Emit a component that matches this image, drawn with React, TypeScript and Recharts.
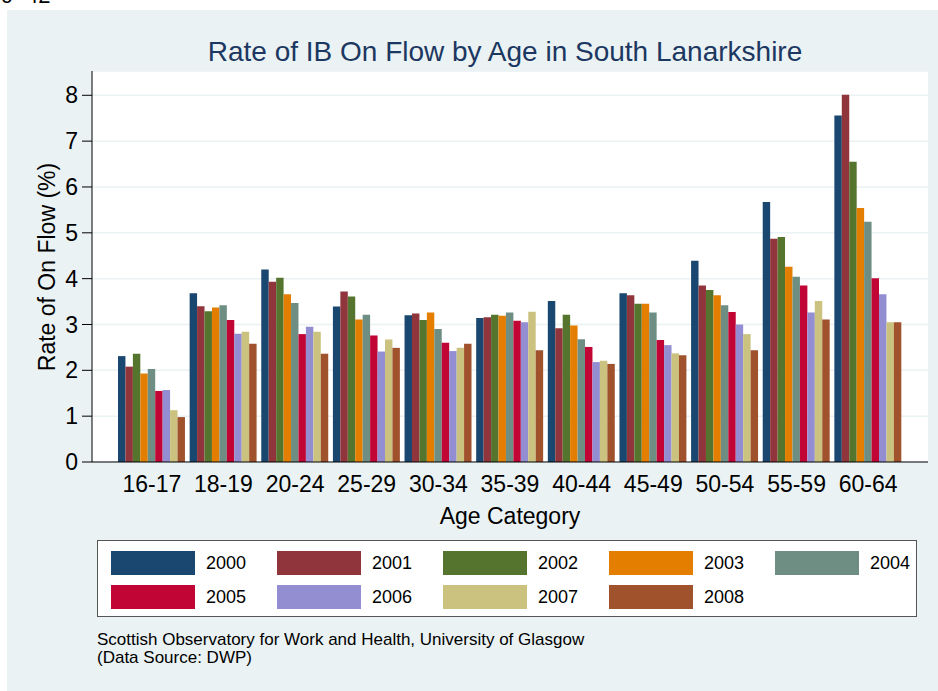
import React from "react"
import { Bar, BarChart, CartesianGrid, XAxis, YAxis } from "recharts"

const ages = ["16-17", "18-19", "20-24", "25-29", "30-34", "35-39", "40-44", "45-49", "50-54", "55-59", "60-64"]
const years = ["2000", "2001", "2002", "2003", "2004", "2005", "2006", "2007", "2008"]

const rate2000 = [2.31, 3.68, 4.2, 3.39, 3.2, 3.14, 3.51, 3.68, 4.39, 5.67, 7.56]
const rate2001 = [2.08, 3.4, 3.93, 3.72, 3.24, 3.16, 2.92, 3.64, 3.85, 4.87, 8.01]
const rate2002 = [2.36, 3.29, 4.02, 3.61, 3.1, 3.21, 3.21, 3.45, 3.75, 4.91, 6.55]
const rate2003 = [1.93, 3.37, 3.66, 3.11, 3.26, 3.19, 2.98, 3.45, 3.64, 4.26, 5.54]
const rate2004 = [2.03, 3.42, 3.47, 3.21, 2.9, 3.26, 2.68, 3.26, 3.42, 4.04, 5.24]
const rate2005 = [1.55, 3.1, 2.79, 2.76, 2.6, 3.08, 2.51, 2.66, 3.27, 3.85, 4.01]
const rate2006 = [1.57, 2.8, 2.95, 2.41, 2.42, 3.05, 2.18, 2.55, 3.0, 3.26, 3.66]
const rate2007 = [1.13, 2.84, 2.84, 2.67, 2.49, 3.28, 2.21, 2.37, 2.79, 3.51, 3.05]
const rate2008 = [0.98, 2.58, 2.36, 2.49, 2.58, 2.44, 2.14, 2.33, 2.44, 3.11, 3.05]

const yTicks = [0, 1, 2, 3, 4, 5, 6, 7, 8]

// stata s2color palette
const colors = ["#1a476f", "#90353b", "#55752f", "#e37e00", "#6e8e84", "#c10534", "#938dd2", "#cac27e", "#a0522d"]

const series = [rate2000, rate2001, rate2002, rate2003, rate2004, rate2005, rate2006, rate2007, rate2008]

const data = ages.map((age, i) => {
  const row: Record<string, string | number> = { age }
  years.forEach((y, j) => {
    row[y] = series[j][i]
  })
  return row
})

const FONT = "'Liberation Sans', Arial, Helvetica, sans-serif"
const BG = "#eaf2f3"

function LegendBox() {
  return (
    <div
      style={{
        position: "absolute",
        left: 97,
        top: 540,
        width: 820,
        height: 77,
        background: "#fff",
        border: "1px solid #555",
        boxSizing: "border-box",
        fontFamily: FONT,
      }}
    >
      {years.map((y, i) => {
        const col = i % 5
        const row = Math.floor(i / 5)
        return (
          <div key={y}>
            <div
              style={{
                position: "absolute",
                left: 13 + col * 166,
                top: 10 + row * 34,
                width: 84,
                height: 24,
                background: colors[i],
              }}
            />
            <div
              style={{
                position: "absolute",
                left: 108 + col * 166,
                top: 10 + row * 34,
                height: 24,
                lineHeight: "24px",
                fontSize: 18,
                color: "#000",
              }}
            >
              {y}
            </div>
          </div>
        )
      })}
    </div>
  )
}

export default function App() {
  return (
    <div style={{ position: "absolute", left: 0, top: 0, width: 938, height: 691, overflow: "hidden", fontFamily: FONT }}>
      <div style={{ position: "absolute", left: 7, top: 10, width: 931, height: 681, background: BG }} />
      <div style={{ position: "absolute", left: 1, top: -15, fontSize: 22, lineHeight: "22px" }}>9</div>
      <div style={{ position: "absolute", left: 26, top: -15, fontSize: 22, lineHeight: "22px" }}>42</div>
      <div
        style={{
          position: "absolute",
          left: 0,
          width: 1010,
          top: 36,
          textAlign: "center",
          fontSize: 28,
          lineHeight: "32px",
          color: "#1c3761",
        }}
      >
        Rate of IB On Flow by Age in South Lanarkshire
      </div>
      <div
        style={{
          position: "absolute",
          left: 47 - 150,
          top: 267 - 14,
          width: 300,
          height: 28,
          lineHeight: "28px",
          textAlign: "center",
          fontSize: 23,
          transform: "rotate(-90deg)",
        }}
      >
        Rate of On Flow (%)
      </div>
      <div
        style={{
          position: "absolute",
          left: 0,
          width: 1020,
          top: 502,
          textAlign: "center",
          fontSize: 23,
          lineHeight: "28px",
        }}
      >
        Age Category
      </div>
      <div style={{ position: "absolute", left: 0, top: 0 }}>
        <BarChart
          width={938}
          height={691}
          data={data}
          margin={{ top: 71, right: 10, bottom: 199, left: 0 }}
          barSize={7.44}
          barGap={0}
        >
          <CartesianGrid vertical={false} fill="#ffffff" stroke={BG} strokeWidth={1.5} />
          <XAxis
            dataKey="age"
            height={30}
            padding={{ left: 24, right: 24 }}
            tickLine={false}
            tickMargin={8}
            axisLine={{ stroke: "#000", strokeWidth: 1.2 }}
            tick={{ fontSize: 23, fill: "#000", fontFamily: FONT }}
            interval={0}
          />
          <YAxis
            width={92}
            domain={[0, 8.53]}
            ticks={yTicks}
            tickSize={10}
            tickMargin={4}
            allowDataOverflow
            axisLine={{ stroke: "#000", strokeWidth: 1 }}
            tickLine={{ stroke: "#000" }}
            tick={{ fontSize: 23, fill: "#000", fontFamily: FONT }}
          />
          {years.map((y, i) => (
            <Bar key={y} dataKey={y} fill={colors[i]} isAnimationActive={false} />
          ))}
        </BarChart>
      </div>
      <LegendBox />
      <div style={{ position: "absolute", left: 97, top: 631, fontSize: 17, lineHeight: "18px" }}>
        Scottish Observatory for Work and Health, University of Glasgow
        <br />
        (Data Source: DWP)
      </div>
    </div>
  )
}
